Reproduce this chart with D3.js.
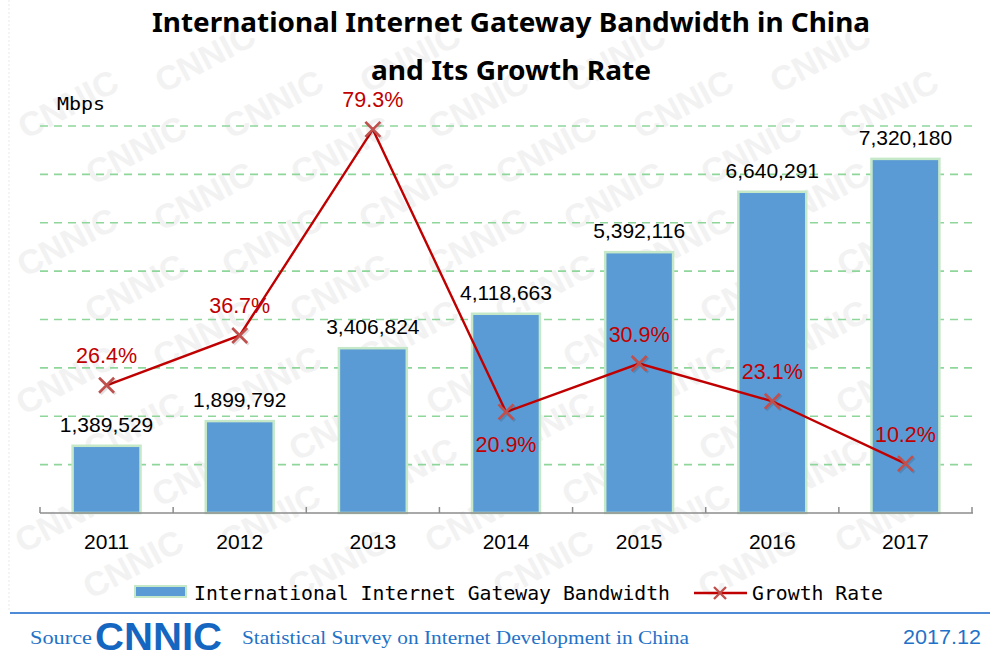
<!DOCTYPE html>
<html>
<head>
<meta charset="utf-8">
<script src="https://cdn.jsdelivr.net/npm/d3@7/dist/d3.min.js"></script>
<style>
  html, body { margin: 0; padding: 0; background: #ffffff; }
  svg { display: block; }
</style>
</head>
<body>
<svg id="chart" width="990" height="657"></svg>
<script>
// Bandwidth (Mbps) and year-on-year growth rate (%)
const years = ["2011", "2012", "2013", "2014", "2015", "2016", "2017"];
const bandwidth = [1389529, 1899792, 3406824, 4118663, 5392116, 6640291, 7320180];
const growth = [26.4, 36.7, 79.3, 20.9, 30.9, 23.1, 10.2];
const bandwidthTicks = [0, 1000000, 2000000, 3000000, 4000000, 5000000, 6000000, 7000000, 8000000];
// growth label placed below its marker for these years
const growthLabelBelow = ["2014"];

const svg = d3.select("#chart");
const W = 990, H = 657;
const plot = { left: 40, right: 972, top: 126, bottom: 513 };

// faint tiled watermark, kept clear of the page edges
const wm = svg.append("g").attr("fill", "#f2f2f2").attr("font-family", "'Liberation Sans', Arial, sans-serif")
  .attr("font-weight", "bold").attr("font-size", 34).attr("text-anchor", "middle");
for (let row = 0; row < 13; row++) {
  for (let col = -3; col < 8; col++) {
    const cxw = col * 205 + row * 68;
    const cyw = 58 + row * 46;
    if (cxw < 60 || cxw > 930 || cyw > 600) continue;
    wm.append("text").attr("transform", `translate(${cxw},${cyw}) rotate(-28)`).attr("dy", "0.35em").text("CNNIC");
  }
}
svg.append("line").attr("x1", 9).attr("x2", 9).attr("y1", 0).attr("y2", 612)
  .attr("stroke", "#e8e8e8").attr("stroke-dasharray", "2,2");

const x = d3.scaleBand().domain(years).range([plot.left, plot.right]).paddingInner(0.49).paddingOuter(0.245);
const xEdges = d3.scaleBand().domain(years).range([plot.left, plot.right]);
const y = d3.scaleLinear().domain([0, 8000000]).range([plot.bottom, plot.top]);
const y2 = d3.scaleLinear().domain([0, 80]).range([plot.bottom, plot.top]);

// dashed gridlines
svg.append("g").selectAll("line").data(bandwidthTicks.slice(1)).join("line")
  .attr("x1", plot.left).attr("x2", plot.right)
  .attr("y1", d => y(d)).attr("y2", d => y(d))
  .attr("stroke", "#8fd69a").attr("stroke-width", 1.6).attr("stroke-dasharray", "8,6");

// bars
svg.append("g").selectAll("rect").data(bandwidth).join("rect")
  .attr("x", (d, i) => x(years[i]))
  .attr("y", d => y(d))
  .attr("width", x.bandwidth())
  .attr("height", d => y(0) - y(d))
  .attr("fill", "#5b9bd5")
  .attr("stroke", "#c4e8c8").attr("stroke-width", 2.5);

// category axis
const axis = svg.append("g");
axis.append("line").attr("x1", plot.left).attr("x2", plot.right + 1)
  .attr("y1", plot.bottom).attr("y2", plot.bottom)
  .attr("stroke", "#8c8c8c").attr("stroke-width", 1.5);
const edges = years.map(d => xEdges(d)).concat([plot.right]);
axis.selectAll("line.tick").data(edges).join("line").attr("class", "tick")
  .attr("x1", d => d).attr("x2", d => d)
  .attr("y1", plot.bottom - 6).attr("y2", plot.bottom)
  .attr("stroke", "#8c8c8c").attr("stroke-width", 1.5);
axis.selectAll("text").data(years).join("text")
  .attr("x", d => x(d) + x.bandwidth() / 2).attr("y", 549)
  .attr("text-anchor", "middle")
  .attr("font-family", "'Liberation Sans', Arial, sans-serif").attr("font-size", 21)
  .attr("fill", "#000").text(d => d);

// bar value labels
const fmt = d3.format(",");
svg.append("g").selectAll("text").data(bandwidth).join("text")
  .attr("x", (d, i) => x(years[i]) + x.bandwidth() / 2)
  .attr("y", d => y(d) - 14)
  .attr("text-anchor", "middle")
  .attr("font-family", "'Liberation Sans', Arial, sans-serif").attr("font-size", 21)
  .attr("fill", "#000").text(d => fmt(d));

// growth line
const cx = i => x(years[i]) + x.bandwidth() / 2;
svg.append("path").datum(growth)
  .attr("d", d3.line().x((d, i) => cx(i)).y(d => y2(d)))
  .attr("fill", "none").attr("stroke", "#c00000").attr("stroke-width", 2.4);

// x markers
const mk = svg.append("g");
growth.forEach((d, i) => {
  const px = cx(i), py = y2(d), s = 7.5;
  const g = mk.append("g");
  g.append("path").attr("d", `M${px - s + 1.5},${py - s + 1.5}L${px + s + 1.5},${py + s + 1.5}M${px - s + 1.5},${py + s + 1.5}L${px + s + 1.5},${py - s + 1.5}`)
    .attr("stroke", "#000").attr("stroke-opacity", 0.12).attr("stroke-width", 3);
  g.append("path").attr("d", `M${px - s},${py - s}L${px + s},${py + s}M${px - s},${py + s}L${px + s},${py - s}`)
    .attr("stroke", "#c0504d").attr("stroke-width", 2.6);
});

// growth labels
svg.append("g").selectAll("text").data(growth).join("text")
  .attr("x", (d, i) => cx(i))
  .attr("y", (d, i) => growthLabelBelow.includes(years[i]) ? y2(d) + 40 : y2(d) - 22)
  .attr("text-anchor", "middle")
  .attr("font-family", "'Liberation Sans', Arial, sans-serif").attr("font-size", 21.5)
  .attr("fill", "#c00000").text(d => d.toFixed(1) + "%");

// unit label
svg.append("text").attr("x", 57).attr("y", 110)
  .attr("font-family", "'DejaVu Sans Mono', monospace").attr("font-size", 18)
  .attr("textLength", 48).attr("lengthAdjust", "spacingAndGlyphs")
  .attr("fill", "#000").text("Mbps");

// title
const title = svg.append("g").attr("font-family", "'Noto Sans', 'Open Sans', sans-serif")
  .attr("font-weight", "bold").attr("font-size", 27).attr("fill", "#000").attr("text-anchor", "middle");
title.append("text").attr("x", 511).attr("y", 32)
  .attr("textLength", 718).attr("lengthAdjust", "spacingAndGlyphs")
  .text("International Internet Gateway Bandwidth in China");
title.append("text").attr("x", 511).attr("y", 80)
  .attr("textLength", 280).attr("lengthAdjust", "spacingAndGlyphs")
  .text("and Its Growth Rate");

// legend
const lg = svg.append("g");
lg.append("rect").attr("x", 135).attr("y", 586).attr("width", 51).attr("height", 11)
  .attr("fill", "#5b9bd5").attr("stroke", "#c4e8c8").attr("stroke-width", 2);
lg.append("text").attr("x", 194).attr("y", 600)
  .attr("font-family", "'DejaVu Sans Mono', monospace").attr("font-size", 19)
  .attr("textLength", 476).attr("lengthAdjust", "spacingAndGlyphs")
  .attr("fill", "#000").text("International Internet Gateway Bandwidth");
lg.append("line").attr("x1", 694).attr("x2", 747).attr("y1", 593).attr("y2", 593)
  .attr("stroke", "#c00000").attr("stroke-width", 2.4);
lg.append("path").attr("d", "M714,587L726,599M714,599L726,587")
  .attr("stroke", "#c0504d").attr("stroke-width", 2.4);
lg.append("text").attr("x", 752).attr("y", 600)
  .attr("font-family", "'DejaVu Sans Mono', monospace").attr("font-size", 19)
  .attr("textLength", 131).attr("lengthAdjust", "spacingAndGlyphs")
  .attr("fill", "#000").text("Growth Rate");

// footer
svg.append("line").attr("x1", 10).attr("x2", 990).attr("y1", 613).attr("y2", 613)
  .attr("stroke", "#4f8ad6").attr("stroke-width", 2);
const ft = svg.append("g").attr("fill", "#1f72c8");
ft.append("text").attr("x", 30).attr("y", 644)
  .attr("font-family", "'Liberation Serif', 'Times New Roman', serif").attr("font-size", 19.5)
  .attr("textLength", 62).attr("lengthAdjust", "spacingAndGlyphs").text("Source");
ft.append("text").attr("x", 95).attr("y", 650)
  .attr("font-family", "'Liberation Sans', Arial, sans-serif").attr("font-weight", "bold").attr("font-size", 38)
  .attr("textLength", 127).attr("lengthAdjust", "spacingAndGlyphs").attr("fill", "#1566c0").text("CNNIC");
ft.append("text").attr("x", 242).attr("y", 644)
  .attr("font-family", "'Liberation Serif', 'Times New Roman', serif").attr("font-size", 19.5)
  .attr("textLength", 447).attr("lengthAdjust", "spacingAndGlyphs")
  .text("Statistical Survey on Internet Development in China");
ft.append("text").attr("x", 903).attr("y", 644)
  .attr("font-family", "'Liberation Sans', Arial, sans-serif").attr("font-size", 21)
  .attr("textLength", 78).attr("lengthAdjust", "spacingAndGlyphs")
  .text("2017.12");
</script>
</body>
</html>
